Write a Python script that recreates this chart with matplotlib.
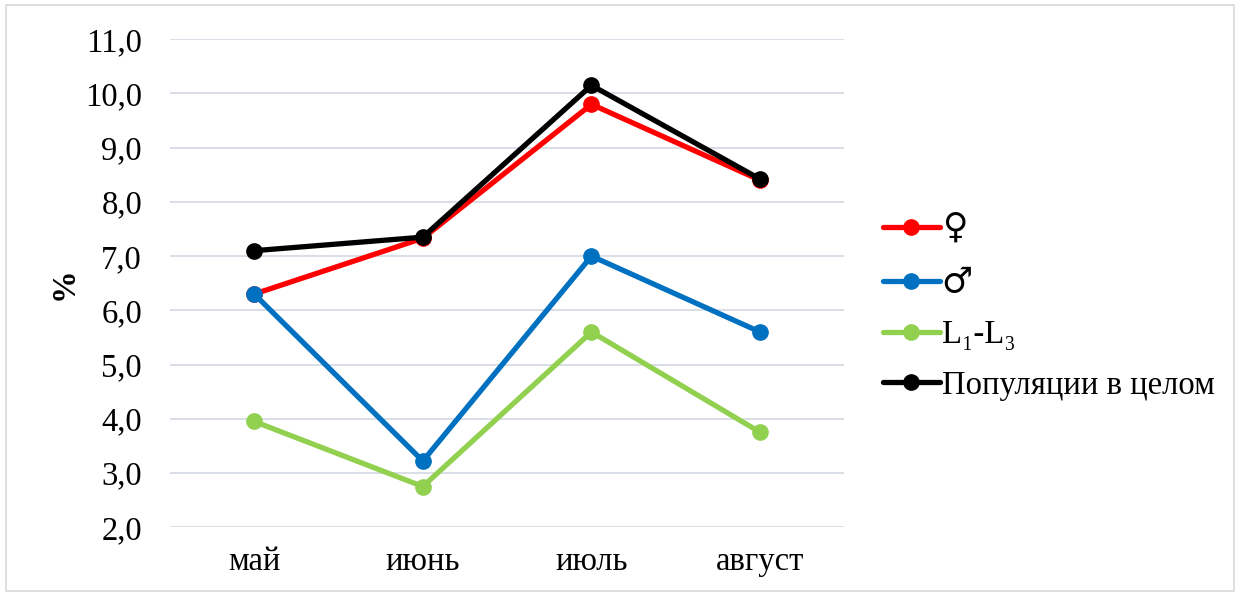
import matplotlib
matplotlib.use("Agg")
import matplotlib.pyplot as plt
from matplotlib.patches import Rectangle

months = ['май', 'июнь', 'июль', 'август']
female = [6.3, 7.33, 9.8, 8.4]
male = [6.3, 3.22, 7.0, 5.6]
larvae = [3.95, 2.75, 5.6, 3.75]
total = [7.1, 7.35, 10.15, 8.42]

series = [
    ('♀', female, '#ff0000'),
    ('♂', male, '#0070c0'),
    ('L₁-L₃', larvae, '#92d050'),
    ('Популяции в целом', total, '#000000'),
]

plt.rcParams['font.family'] = ['Liberation Serif', 'DejaVu Sans']
fs = 23.5

fig = plt.figure(figsize=(12.4, 5.95), dpi=100)
ax = fig.add_axes([0.137, 0.114, 0.544, 0.82])

x = list(range(len(months)))
for label, vals, color in series:
    ax.plot(x, vals, color=color, lw=3.8, marker='o', ms=11, label=label,
            solid_capstyle='round')

ax.set_xlim(-0.5, 3.5)
ax.set_ylim(2, 11)
ax.set_yticks(range(2, 12))
ax.set_yticklabels([f'{v},0' for v in range(2, 12)])
ax.set_xticks(x)
ax.set_xticklabels(months)
ax.tick_params(axis='both', length=0, labelsize=fs)
ax.tick_params(axis='x', pad=14)
ax.tick_params(axis='y', pad=20)
ax.grid(axis='y', color='#d9dee6', lw=1.4)
ax.set_axisbelow(True)
for s in ax.spines.values():
    s.set_visible(False)

ax.set_ylabel('%', fontsize=fs, fontweight='bold', labelpad=4)

leg = ax.legend(loc='center left', bbox_to_anchor=(0.712, 0.486), bbox_transform=fig.transFigure,
                frameon=False, fontsize=fs, handlelength=1.75, handletextpad=0.05,
                labelspacing=0.62, borderaxespad=0, borderpad=0)
for t in leg.get_texts()[:2]:
    t.set_fontfamily('DejaVu Sans')
    t.set_fontsize(25)

fig.patches.append(Rectangle((0.005, 0.007), 0.99, 0.985, transform=fig.transFigure,
                             fill=False, edgecolor='#d9d9d9', lw=1.2))

fig.savefig('out.png', dpi=100)
